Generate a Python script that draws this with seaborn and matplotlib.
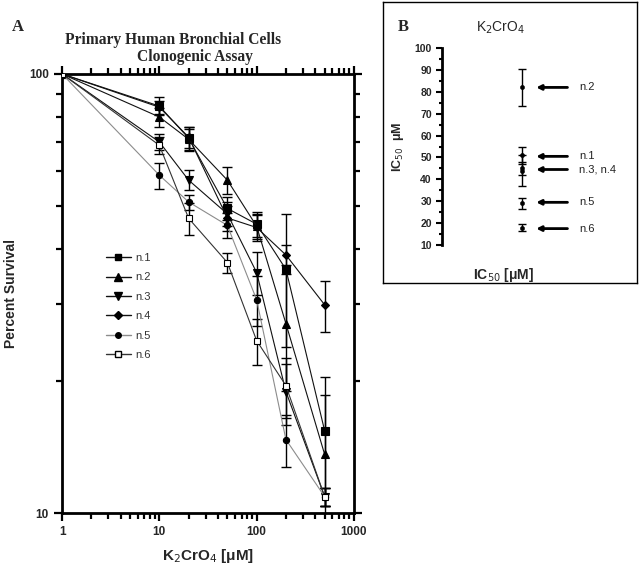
"""Clonogenic survival of primary bronchial cells after K2CrO4 exposure."""
import numpy as np
import pandas as pd
import matplotlib
matplotlib.use('Agg')
from matplotlib import pyplot as plt
from matplotlib import ticker
import seaborn as sns

# Panel A: percent survival per donor
dose = [1, 10, 20, 50, 100, 200, 500]
samples = ['n.1', 'n.2', 'n.3', 'n.4', 'n.5', 'n.6']
surv_n1 = [100, 84.5, 71.4, 49.4, 45.5, 35.9, 15.4]
surv_n2 = [100, 79.8, 71.0, 57.3, 45.0, 27.0, 13.6]
surv_n3 = [100, 70.0, 57.3, 48.0, 35.3, 18.9, 10.9]
surv_n4 = [100, 84.0, 71.8, 47.0, 44.7, 38.7, 29.8]
surv_n5 = [100, 58.8, 51.1, 45.2, 30.6, 14.7, 10.9]
surv_n6 = [100, 68.8, 46.9, 37.2, 24.7, 19.5, 10.9]
err_n1 = [0, 4.0, 4.5, 3.0, 3.0, 12.0, 5.0]
err_n2 = [0, 4.0, 4.0, 4.0, 3.0, 8.0, 5.0]
err_n3 = [0, 3.0, 3.0, 3.0, 4.0, 3.0, 0.5]
err_n4 = [0, 3.0, 4.0, 3.0, 3.0, 2.0, 4.0]
err_n5 = [0, 4.0, 2.0, 3.0, 4.0, 2.0, 0.5]
err_n6 = [0, 3.0, 4.0, 2.0, 3.0, 3.0, 0.5]

# Panel B: IC50 per donor
ic50_labels = ['n.2', 'n.1', 'n.3, n.4', 'n.5', 'n.6']
ic50_points = [82.0, 51.0, 45.0, 44.0, 29.0, 18.0]
ic50_errors = [8.5, 4.0, 3.0, 7.0, 2.5, 1.5]
arrow_levels = [82.0, 50.5, 44.5, 29.5, 17.5]

surv = [surv_n1, surv_n2, surv_n3, surv_n4, surv_n5, surv_n6]
errs = [err_n1, err_n2, err_n3, err_n4, err_n5, err_n6]
df = pd.DataFrame({
    'dose': np.tile(dose, len(samples)),
    'survival': np.concatenate(surv),
    'err': np.concatenate(errs),
    'sample': np.repeat(samples, len(dose)),
})

markers = {'n.1': 's', 'n.2': '^', 'n.3': 'v', 'n.4': 'D', 'n.5': 'o', 'n.6': 's'}
line_colors = {'n.1': '#111111', 'n.2': '#111111', 'n.3': '#111111',
               'n.4': '#111111', 'n.5': '#8c8c8c', 'n.6': '#333333'}
marker_faces = {'n.1': 'black', 'n.2': 'black', 'n.3': 'black',
                'n.4': 'black', 'n.5': 'black', 'n.6': 'white'}
marker_sizes = {'n.1': 5.5, 'n.2': 6, 'n.3': 6, 'n.4': 4.5, 'n.5': 4.5, 'n.6': 5}

sns.set_style('white')
plt.rcParams['font.family'] = ['Liberation Sans', 'DejaVu Sans']

fig = plt.figure(figsize=(6.4, 5.69), dpi=100)
ax = fig.add_axes([0.097, 0.0984, 0.456, 0.7716])

for s in samples:
    sub = df[df['sample'] == s]
    ax.errorbar(sub['dose'], sub['survival'], yerr=sub['err'], fmt='none',
                ecolor='black', elinewidth=1, capsize=3.5, capthick=1, zorder=2)
sns.lineplot(df, x='dose', y='survival', hue='sample', style='sample',
             palette=line_colors, markers=markers, dashes=False, linewidth=0.8,
             legend=False, ax=ax, zorder=3, markersize=5, markeredgecolor='black')
# per-series marker faces
for line, s in zip(ax.get_lines()[-len(samples):], samples):
    line.set_markerfacecolor(marker_faces[s])
    line.set_markeredgecolor('black')
    line.set_markersize(marker_sizes[s])
    line.set_markeredgewidth(0.8)

ax.set_xscale('log')
ax.set_yscale('log')
ax.set_xlim(1, 1000)
ax.set_ylim(10, 100)
ax.xaxis.set_major_locator(ticker.FixedLocator([1, 10, 100, 1000]))
ax.xaxis.set_major_formatter(ticker.FixedFormatter(['1', '10', '100', '1000']))
ax.yaxis.set_major_locator(ticker.FixedLocator([10, 100]))
ax.yaxis.set_major_formatter(ticker.FixedFormatter(['10', '100']))
ax.yaxis.set_minor_locator(ticker.FixedLocator(range(20, 100, 10)))
ax.yaxis.set_minor_formatter(ticker.NullFormatter())
ax.xaxis.set_minor_formatter(ticker.NullFormatter())
ax.tick_params(which='both', direction='out', top=True, right=True,
               bottom=True, left=True, width=1.6, color='black')
ax.tick_params(which='major', length=6, labelsize=8.5)
ax.tick_params(which='minor', length=4)
for lab in ax.get_xticklabels() + ax.get_yticklabels():
    lab.set_fontweight('bold')
for sp in ax.spines.values():
    sp.set_linewidth(2)
    sp.set_color('black')
ax.set_xlabel('K$_2$CrO$_4$ [μM]', fontsize=11, fontweight='bold', labelpad=6)
ax.set_ylabel('Percent Survival', fontsize=10, fontweight='bold')
ax.yaxis.set_label_coords(-0.152, 0.5)

handles = []
for s in samples:
    h, = ax.plot([], [], color=line_colors[s], marker=markers[s], lw=1,
                 markerfacecolor=marker_faces[s], markeredgecolor='black',
                 markersize=marker_sizes[s] - 0.5)
    handles.append(h)
ax.legend(handles, samples, loc='upper left', bbox_to_anchor=(0.13, 0.605),
          frameon=False, fontsize=8, labelspacing=0.85, handlelength=2.3,
          handletextpad=0.4, borderpad=0, labelcolor='#333333')

fig.text(0.019, 0.952, 'A', fontsize=12, fontweight='bold',
         family='Liberation Serif', va='center')
fig.text(0.27, 0.930, 'Primary Human Bronchial Cells', fontsize=11.2,
         fontweight='bold', family='Liberation Serif', ha='center', va='center')
fig.text(0.305, 0.899, 'Clonogenic Assay', fontsize=11.2,
         fontweight='bold', family='Liberation Serif', ha='center', va='center')

# Panel B box
box = fig.add_axes([0.598, 0.503, 0.397, 0.494])
box.set_xticks([])
box.set_yticks([])
for sp in box.spines.values():
    sp.set_linewidth(1)
    sp.set_color('black')
box.set_facecolor('white')

bx = fig.add_axes([0.691, 0.5694, 0.25, 0.3462])
bx.patch.set_alpha(0)
pts = pd.DataFrame({'x': [0.5] * len(ic50_points), 'ic50': ic50_points})
bx.errorbar(pts['x'], pts['ic50'], yerr=ic50_errors, fmt='none',
            ecolor='black', elinewidth=1, capsize=3, capthick=1)
sns.scatterplot(pts, x='x', y='ic50', color='black', s=10, ax=bx,
                edgecolor='black', zorder=3)
for lab, lvl in zip(ic50_labels, arrow_levels):
    bx.annotate('', xy=(0.57, lvl), xytext=(0.8, lvl),
                arrowprops=dict(arrowstyle='-|>', color='black', lw=2,
                                mutation_scale=7))
    bx.text(0.855, lvl, lab, fontsize=8, va='center', ha='left', color='#222222')
bx.set_xlim(0, 1)
bx.set_ylim(10, 100)
bx.yaxis.set_major_locator(ticker.MultipleLocator(10))
bx.yaxis.set_minor_locator(ticker.MultipleLocator(5))
bx.set_xticks([])
for k in ['top', 'right', 'bottom']:
    bx.spines[k].set_visible(False)
bx.spines['left'].set_linewidth(2)
bx.spines['left'].set_color('black')
bx.tick_params(axis='y', which='both', direction='out', left=True, width=1.5,
               color='black', labelsize=7.5)
bx.tick_params(axis='y', which='major', length=4)
bx.tick_params(axis='y', which='minor', length=2.5)
for lab in bx.get_yticklabels():
    lab.set_fontweight('bold')
bx.set_xlabel('')
bx.set_ylabel('IC$_{50}$  μM', fontsize=9, fontweight='bold', labelpad=6)

fig.text(0.622, 0.953, 'B', fontsize=12, fontweight='bold',
         family='Liberation Serif', va='center')
fig.text(0.782, 0.951, 'K$_2$CrO$_4$', fontsize=10, ha='center', va='center')
fig.text(0.786, 0.516, 'IC$_{50}$ [μM]', fontsize=10, fontweight='bold',
         ha='center', va='center')

fig.savefig('out.png', dpi=100)
